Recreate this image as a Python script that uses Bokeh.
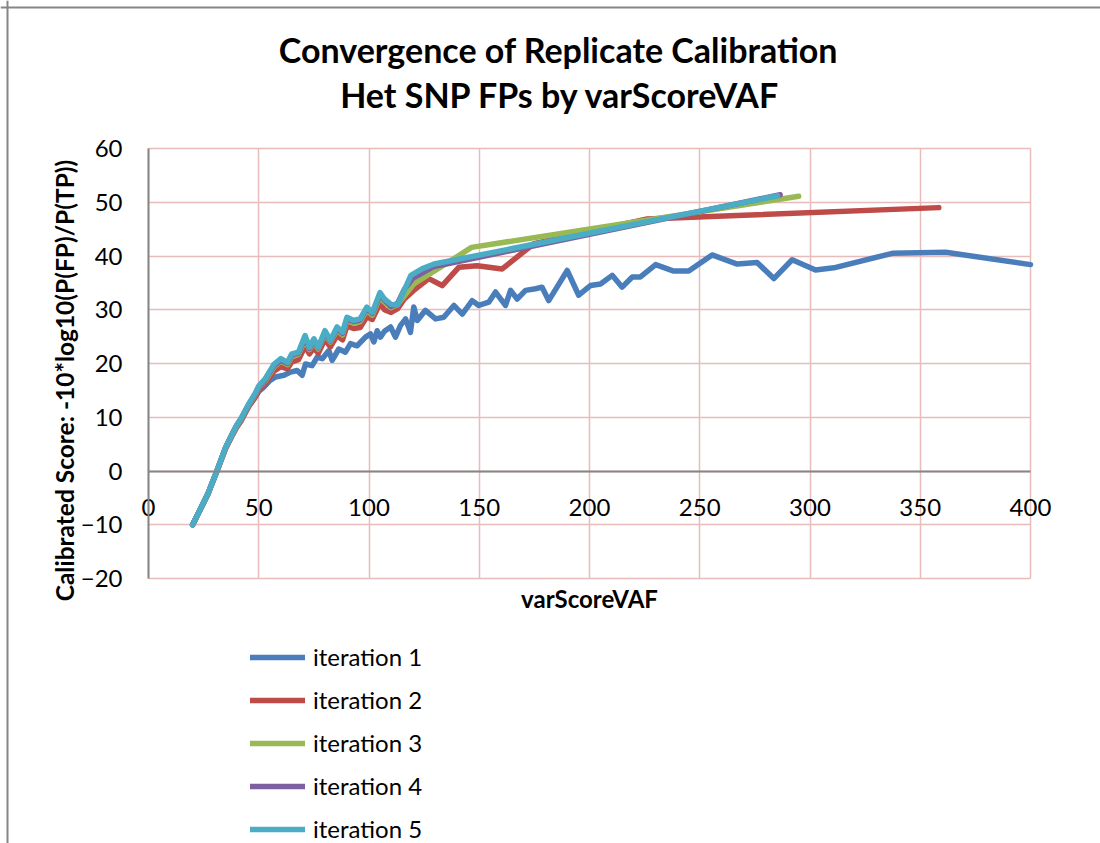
import math
from bokeh.plotting import figure
from bokeh.models import Range1d, FixedTicker, Legend, LegendItem, Label, LinearAxis, Span
from bokeh.embed import file_html
from bokeh.resources import INLINE

# ---------------- data ----------------
series_names = ["iteration 1", "iteration 2", "iteration 3", "iteration 4", "iteration 5"]
series_colors = ["#4A7EBB", "#BE4B48", "#98B954", "#7D60A0", "#4BACC6"]

it1_x = [20, 27, 31, 35, 38, 40, 42, 45.5, 48, 50, 52.3, 55, 57.6, 61.4, 64.4, 67.4, 69.7, 71.2, 74.2,
         76.5, 78.8, 81.8, 83.3, 86.3, 89.3, 91.6, 94.6, 98.4, 100.7, 102.2, 103.7, 105.2, 107, 109.8,
         112, 114.3, 116.6, 118.8, 120.3, 121.9, 125.6, 130.2, 133.9, 138.5, 142.3, 146.8, 149.8, 154.3,
         157.4, 161.9, 164.2, 167.2, 171, 175.5, 178.5, 181.5, 189.9, 195.1, 200.4, 205, 210.3, 214.8,
         219.4, 223.1, 230, 238.2, 245, 255.6, 267, 276, 283.6, 291.9, 302.5, 310.8, 337.3, 361.5, 400]
it1_y = [-10, -4.2, 0, 4.4, 6.9, 8.3, 9.6, 12.3, 13.5, 14.8, 15.6, 16.8, 17.5, 17.8, 18.4, 18.7, 17.8,
         19.9, 19.6, 21.2, 20.9, 22.4, 20.6, 22.7, 22.1, 23.7, 23.3, 24.9, 25.5, 24.0, 26.1, 24.9, 26.0,
         26.8, 24.9, 27.1, 28.3, 25.8, 30.5, 28.0, 29.9, 28.3, 28.6, 30.8, 29.2, 31.7, 30.8, 31.4, 33.3,
         30.8, 33.6, 32.0, 33.6, 33.9, 34.2, 31.7, 37.3, 32.7, 34.5, 34.8, 36.4, 34.2, 36.1, 36.1, 38.4,
         37.2, 37.2, 40.2, 38.5, 38.8, 35.8, 39.3, 37.4, 37.8, 40.5, 40.7, 38.4]

it2_x = [20, 27, 31, 35, 38, 40, 42, 45.5, 48, 50, 53, 57, 60, 63, 65, 68, 71, 73, 75, 77, 80, 82.5,
         85.5, 88, 90, 93, 96, 99, 101.5, 105, 107, 110, 113, 116, 120.3, 127.1, 133.2, 140.7, 149.1,
         160.4, 174.8, 226.2, 264, 358.4]
it2_y = [-10, -4.3, -0.1, 4.2, 6.6, 8.1, 9.3, 12.0, 13.5, 15.0, 16.3, 18.6, 19.4, 19.0, 20.3, 20.7,
         23.2, 21.8, 22.9, 21.9, 24.5, 23.1, 25.2, 24.4, 27.0, 26.5, 26.7, 28.7, 28.2, 31.2, 30.0, 29.5,
         30.2, 32.0, 33.6, 35.8, 34.5, 37.9, 38.2, 37.6, 42.3, 46.9, 47.5, 49.0]

it3_x = [20, 27, 31, 35, 38, 40, 42, 45.5, 48, 50, 53, 57, 60, 63, 65, 68, 71, 73, 75, 77, 80, 82.5,
         85.5, 88, 90, 93, 96, 99, 101.5, 105, 107, 110, 113, 120.3, 132.4, 146.5, 294.9]
it3_y = [-10, -4.2, 0, 4.4, 6.9, 8.4, 9.6, 12.3, 13.9, 15.5, 16.8, 19.4, 20.4, 19.8, 21.3, 21.7, 24.4,
         22.6, 24.0, 22.7, 25.5, 24.0, 26.2, 25.3, 28.0, 27.5, 27.8, 29.9, 29.0, 32.4, 31.4, 30.4, 31.0,
         34.8, 37.9, 41.6, 51.1]

it4_x = [20, 27, 31, 35, 38, 40, 42, 45.5, 48, 50, 53, 57, 60, 63, 65, 68, 71, 73, 75, 77, 80, 82.5,
         85.5, 88, 90, 93, 96, 99, 101.5, 105, 107, 110, 113, 116, 120, 129, 286.5]
it4_y = [-10, -4.2, 0, 4.4, 6.9, 8.5, 9.7, 12.4, 14.0, 15.6, 17.0, 19.6, 20.6, 20.0, 21.6, 21.9, 24.8,
         22.8, 24.3, 22.9, 25.8, 24.2, 26.5, 25.6, 28.3, 27.8, 28.1, 30.2, 29.3, 32.8, 31.8, 30.6, 31.2,
         33.8, 35.9, 38.0, 51.4]

it5_x = [20, 27, 31, 35, 38, 40, 42, 45.5, 48, 50, 53, 57, 60, 63, 65, 68, 71, 73, 75, 77, 80, 82.5,
         85.5, 88, 90, 93, 96, 99, 101.5, 105, 107, 110, 113, 119, 124, 129.5, 285.3]
it5_y = [-10, -4.2, 0, 4.4, 6.9, 8.5, 9.8, 12.5, 14.2, 15.8, 17.2, 19.9, 20.9, 20.2, 21.8, 22.1, 25.2,
         23.0, 24.6, 23.0, 26.1, 24.3, 26.8, 25.8, 28.6, 28.0, 28.3, 30.5, 29.5, 33.2, 32.0, 31.0, 30.9,
         36.4, 37.6, 38.5, 51.2]

x_min, x_max = 0, 400
y_min, y_max = -20, 60
x_ticks = [0, 50, 100, 150, 200, 250, 300, 350, 400]
y_ticks = [-20, -10, 0, 10, 20, 30, 40, 50, 60]

title_line1 = "Convergence of Replicate Calibration"
title_line2 = "Het SNP FPs by varScoreVAF"
x_label = "varScoreVAF"
y_label = "Calibrated Score: -10*log10(P(FP)/P(TP))"

# ---------------- layout (pixels) ----------------
W, H = 1100, 843            # whole canvas
PL, PT = 148, 148           # plot area offset from canvas left / top
PW, PH = 882, 430           # plot area size
PR = W - PL - PW
PB = H - PT - PH
BORDER = 141                # chart-area border distance outside the plot area
xu = (x_max - x_min) / PW
yu = (y_max - y_min) / PH

FONT = "Lato"
GRID = "#E8BCBB"
AXIS = "#868686"

# the frame covers the whole canvas so that nothing gets clipped;
# the visible plot area is the [0,400] x [-20,60] box inside it
p = figure(width=W, height=H, output_backend="svg", toolbar_location=None,
           x_range=Range1d(x_min - PL * xu, x_max + PR * xu),
           y_range=Range1d(y_min - PB * yu, y_max + PT * yu),
           x_axis_location=None, y_axis_location=None,
           min_border=0)
p.outline_line_color = None
p.background_fill_color = "white"
p.border_fill_color = "white"

# chart-area border (top and left edges, as in the reference)
p.add_layout(Span(location=x_min - BORDER * xu, dimension="height", line_color=AXIS, line_width=2))
p.add_layout(Span(location=y_max + BORDER * yu, dimension="width", line_color=AXIS, line_width=2))

# grid
p.xgrid.ticker = FixedTicker(ticks=x_ticks)
p.ygrid.ticker = FixedTicker(ticks=y_ticks)
p.xgrid.bounds = (x_min, x_max)
p.ygrid.bounds = (y_min, y_max)
p.xgrid.cross_bounds = (y_min, y_max)
p.ygrid.cross_bounds = (x_min, x_max)
for g in (p.xgrid[0], p.ygrid[0]):
    g.grid_line_color = GRID
    g.grid_line_width = 1.5

# axes
xaxis = LinearAxis(ticker=FixedTicker(ticks=x_ticks), fixed_location=0, bounds=(x_min, x_max),
                   axis_label=x_label, major_label_standoff=28, axis_label_standoff=64)
yaxis = LinearAxis(ticker=FixedTicker(ticks=y_ticks), fixed_location=0, bounds=(y_min, y_max),
                   major_label_standoff=26)
for ax in (xaxis, yaxis):
    ax.axis_line_color = AXIS
    ax.axis_line_width = 2
    ax.major_tick_line_color = None
    ax.minor_tick_line_color = None
    ax.major_tick_out = 0
    ax.major_tick_in = 0
    ax.minor_tick_out = 0
    ax.minor_tick_in = 0
    ax.major_label_text_font = FONT
    ax.major_label_text_font_size = "24px"
    ax.major_label_text_color = "black"
    ax.axis_label_text_font = FONT
    ax.axis_label_text_font_style = "bold"
    ax.axis_label_text_font_size = "24px"
    ax.axis_label_text_color = "black"
p.add_layout(xaxis, "below")
p.add_layout(yaxis, "left")

# y axis title, placed like the reference (slightly below the plot-area centre)
p.add_layout(Label(x=64, y=H - 380, x_units="screen", y_units="screen", text=y_label,
                   angle=math.pi / 2, text_align="center", text_baseline="middle",
                   text_font=FONT, text_font_size="24.5px", text_font_style="bold",
                   text_color="black"))

# lines
xs = [it1_x, it2_x, it3_x, it4_x, it5_x]
ys = [it1_y, it2_y, it3_y, it4_y, it5_y]
renderers = []
for x, y, c in zip(xs, ys, series_colors):
    r = p.line(x, y, line_color=c, line_width=5.5, line_cap="round", line_join="round")
    renderers.append(r)

legend = Legend(items=[LegendItem(label=n, renderers=[r]) for n, r in zip(series_names, renderers)],
                location=(250, 0), orientation="vertical",
                glyph_width=55, glyph_height=20, label_height=20, spacing=14,
                label_standoff=8, padding=0, margin=0,
                border_line_color=None, background_fill_alpha=0,
                label_text_font=FONT, label_text_font_size="24px", label_text_color="black")
p.add_layout(legend, "center")

# title (two lines)
p.add_layout(Label(x=558, y=H - 49, x_units="screen", y_units="screen", text=title_line1,
                   text_align="center", text_baseline="middle", text_font=FONT,
                   text_font_size="34px", text_font_style="bold", text_color="black"))
p.add_layout(Label(x=560, y=H - 94, x_units="screen", y_units="screen", text=title_line2,
                   text_align="center", text_baseline="middle", text_font=FONT,
                   text_font_size="34px", text_font_style="bold", text_color="black"))

open("out.html", "w").write(file_html(p, INLINE))
